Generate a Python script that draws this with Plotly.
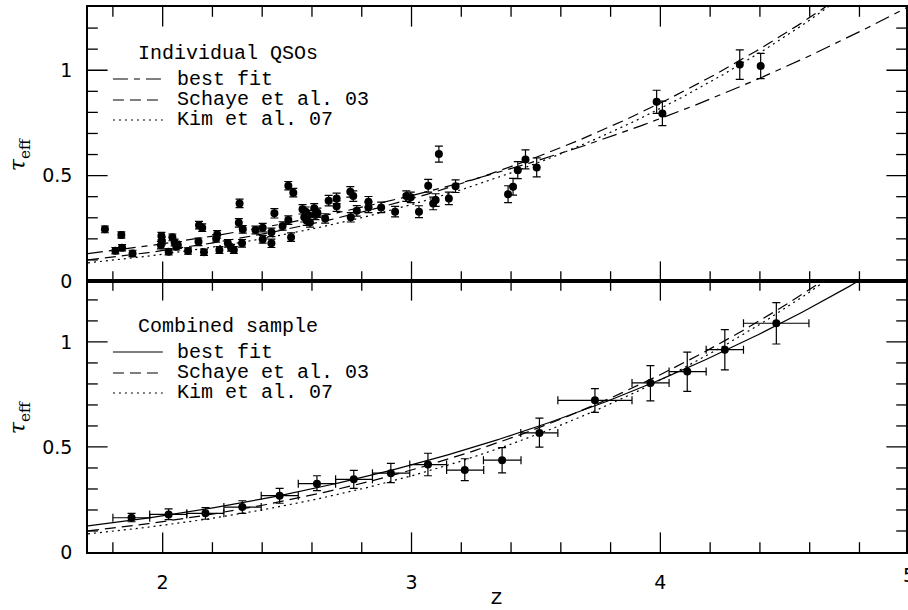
import numpy as np
import plotly.graph_objects as go

# ---------------- data: individual QSOs (top panel) ----------------
z_ind = [1.768, 1.810, 1.834, 1.837, 1.879, 1.995, 1.997, 1.993, 2.024, 2.039,
         2.048, 2.061, 2.055, 2.102, 2.146, 2.159, 2.144, 2.166, 2.219, 2.215,
         2.228, 2.262, 2.275, 2.286, 2.309, 2.306, 2.322, 2.319, 2.373, 2.402,
         2.402, 2.437, 2.437, 2.449, 2.482, 2.505, 2.505, 2.525, 2.516, 2.562,
         2.569, 2.575, 2.579, 2.585, 2.592, 2.609, 2.614, 2.622, 2.653, 2.667,
         2.699, 2.699, 2.754, 2.766, 2.756, 2.780, 2.827, 2.827, 2.878, 2.934,
         2.979, 2.997, 3.030, 3.067, 3.087, 3.097, 3.110, 3.150, 3.177, 3.388,
         3.408, 3.427, 3.458, 3.503, 3.985, 4.008, 4.319, 4.403]
tau_ind = [0.245, 0.144, 0.218, 0.158, 0.131, 0.213, 0.190, 0.170, 0.139, 0.207,
           0.183, 0.171, 0.163, 0.142, 0.265, 0.253, 0.186, 0.136, 0.221, 0.202,
           0.147, 0.179, 0.158, 0.147, 0.368, 0.276, 0.245, 0.179, 0.242, 0.253,
           0.198, 0.231, 0.179, 0.321, 0.261, 0.289, 0.452, 0.419, 0.208, 0.340,
           0.302, 0.329, 0.286, 0.313, 0.278, 0.345, 0.313, 0.324, 0.297, 0.381,
           0.392, 0.355, 0.423, 0.403, 0.302, 0.333, 0.376, 0.349, 0.349, 0.329,
           0.403, 0.397, 0.329, 0.452, 0.368, 0.384, 0.602, 0.392, 0.450, 0.412,
           0.447, 0.526, 0.577, 0.539, 0.850, 0.795, 1.027, 1.020]
err_ind = [0.016, 0.015, 0.015, 0.015, 0.015, 0.018, 0.018, 0.018, 0.015, 0.016,
           0.016, 0.016, 0.016, 0.015, 0.018, 0.018, 0.018, 0.015, 0.018, 0.018,
           0.016, 0.018, 0.016, 0.016, 0.020, 0.020, 0.018, 0.018, 0.018, 0.020,
           0.018, 0.020, 0.020, 0.022, 0.020, 0.020, 0.020, 0.020, 0.020, 0.022,
           0.022, 0.022, 0.022, 0.022, 0.022, 0.022, 0.022, 0.022, 0.022, 0.025,
           0.025, 0.025, 0.025, 0.025, 0.022, 0.025, 0.025, 0.025, 0.025, 0.025,
           0.025, 0.025, 0.028, 0.030, 0.030, 0.030, 0.038, 0.030, 0.030, 0.040,
           0.040, 0.040, 0.045, 0.045, 0.055, 0.058, 0.070, 0.060]

# ---------------- data: combined sample (bottom panel) ----------------
z_comb = [1.875, 2.024, 2.172, 2.320, 2.470, 2.620, 2.768, 2.917, 3.066, 3.214,
          3.364, 3.514, 3.737, 3.960, 4.108, 4.259, 4.466]
tau_comb = [0.163, 0.179, 0.184, 0.214, 0.268, 0.325, 0.346, 0.375, 0.416, 0.390,
            0.437, 0.567, 0.722, 0.805, 0.859, 0.963, 1.089]
zlo_comb = [1.800, 1.948, 2.097, 2.246, 2.396, 2.545, 2.695, 2.843, 2.993, 3.141,
            3.289, 3.439, 3.588, 3.886, 4.035, 4.184, 4.334]
zhi_comb = [1.948, 2.097, 2.246, 2.396, 2.545, 2.695, 2.843, 2.993, 3.141, 3.290,
            3.440, 3.588, 3.886, 4.035, 4.184, 4.334, 4.597]
taulo_comb = [0.144, 0.154, 0.156, 0.184, 0.232, 0.292, 0.303, 0.330, 0.363, 0.340,
              0.377, 0.499, 0.665, 0.719, 0.765, 0.867, 0.990]
tauhi_comb = [0.184, 0.205, 0.211, 0.244, 0.303, 0.363, 0.389, 0.422, 0.470, 0.444,
              0.497, 0.637, 0.778, 0.887, 0.951, 1.059, 1.187]

# ---------------- model curves: tau = A (1+z)^gamma ----------------
FIT_IND_A, FIT_IND_G = 0.00743, 2.884
FIT_COMB_A, FIT_COMB_G = 0.00596, 3.06
SCHAYE_A, SCHAYE_G = 0.39, 3.46      # tau = A ((1+z)/4)^gamma
KIM_A, KIM_G = 0.0023, 3.65

legend_top = ["Individual QSOs", "best fit", "Schaye et al. 03", "Kim et al. 07"]
legend_bot = ["Combined sample", "best fit", "Schaye et al. 03", "Kim et al. 07"]

# tick marks (values on the axes)
X_MAJOR = [2, 3, 4]
X_MINOR = [1.8, 2.2, 2.4, 2.6, 2.8, 3.2, 3.4, 3.6, 3.8, 4.2, 4.4, 4.6, 4.8]
Y_MAJOR = [0.5, 1.0]
Y_MINOR = [0.1, 0.2, 0.3, 0.4, 0.6, 0.7, 0.8, 0.9, 1.1, 1.2]
Y_LABELS = [0, 0.5, 1]
Y_TEXT = ["0", "0.5", "1"]

ZMIN, ZMAX = 1.7, 4.987
YMAX_TOP, YMAX_BOT = 1.3, 1.29
zz = np.linspace(ZMIN, 5.0, 300)
fit_ind = FIT_IND_A * (1 + zz) ** FIT_IND_G
fit_comb = FIT_COMB_A * (1 + zz) ** FIT_COMB_G
schaye = SCHAYE_A * ((1 + zz) / 4.0) ** SCHAYE_G
kim = KIM_A * (1 + zz) ** KIM_G

TXTFONT = "Liberation Mono"
NUMFONT = "DejaVu Sans"
DASH_BEST = "15px,6px,6px,6px"
DASH_SCH = "11px,6px"
DASH_KIM = "2px,4px"
LW = 1.2
TICK_MAJ, TICK_MIN, TICK_W = 14, 7, 1.3
PLOT_W, PLOT_H = 820.0, 545.0

fig = go.Figure()

# top panel curves
fig.add_trace(go.Scatter(x=zz, y=fit_ind, mode="lines", line=dict(color="black", width=LW, dash=DASH_BEST),
                         xaxis="x", yaxis="y", showlegend=False, hoverinfo="skip"))
fig.add_trace(go.Scatter(x=zz, y=schaye, mode="lines", line=dict(color="black", width=LW, dash=DASH_SCH),
                         xaxis="x", yaxis="y", showlegend=False, hoverinfo="skip"))
fig.add_trace(go.Scatter(x=zz, y=kim, mode="lines", line=dict(color="black", width=LW, dash=DASH_KIM),
                         xaxis="x", yaxis="y", showlegend=False, hoverinfo="skip"))
fig.add_trace(go.Scatter(x=z_ind, y=tau_ind, mode="markers",
                         marker=dict(color="black", size=8),
                         error_y=dict(type="data", array=err_ind, color="black", thickness=1.2, width=4),
                         xaxis="x", yaxis="y", showlegend=False))

# bottom panel curves
fig.add_trace(go.Scatter(x=zz, y=fit_comb, mode="lines", line=dict(color="black", width=LW),
                         xaxis="x2", yaxis="y2", showlegend=False, hoverinfo="skip"))
fig.add_trace(go.Scatter(x=zz, y=schaye, mode="lines", line=dict(color="black", width=LW, dash=DASH_SCH),
                         xaxis="x2", yaxis="y2", showlegend=False, hoverinfo="skip"))
fig.add_trace(go.Scatter(x=zz, y=kim, mode="lines", line=dict(color="black", width=LW, dash=DASH_KIM),
                         xaxis="x2", yaxis="y2", showlegend=False, hoverinfo="skip"))
zc = np.array(z_comb); tc = np.array(tau_comb)
fig.add_trace(go.Scatter(x=z_comb, y=tau_comb, mode="markers",
                         marker=dict(color="black", size=8),
                         error_x=dict(type="data", symmetric=False,
                                      array=(np.array(zhi_comb) - zc).tolist(),
                                      arrayminus=(zc - np.array(zlo_comb)).tolist(),
                                      color="black", thickness=1.2, width=4),
                         error_y=dict(type="data", symmetric=False,
                                      array=(np.array(tauhi_comb) - tc).tolist(),
                                      arrayminus=(tc - np.array(taulo_comb)).tolist(),
                                      color="black", thickness=1.2, width=4),
                         xaxis="x2", yaxis="y2", showlegend=False))

# -------- tick marks: line-shaped markers centred on each frame edge, half clipped away --------
def tick_trace(xs, ys, symbol, ln, xa, ya):
    return go.Scatter(x=xs, y=ys, mode="markers", cliponaxis=True, xaxis=xa, yaxis=ya,
                      marker=dict(symbol=symbol, size=2 * ln, color="black",
                                  line=dict(color="black", width=TICK_W)),
                      showlegend=False, hoverinfo="skip")

for xa, ya, ymax in [("x", "y", YMAX_TOP), ("x2", "y2", YMAX_BOT)]:
    for vals, ln in [(X_MAJOR, TICK_MAJ), (X_MINOR, TICK_MIN)]:
        fig.add_trace(tick_trace(vals, [0] * len(vals), "line-ns", ln, xa, ya))
        fig.add_trace(tick_trace(vals, [ymax] * len(vals), "line-ns", ln, xa, ya))
    for vals, ln in [(Y_MAJOR, TICK_MAJ), (Y_MINOR, TICK_MIN)]:
        fig.add_trace(tick_trace([ZMIN] * len(vals), vals, "line-ew", ln, xa, ya))
        fig.add_trace(tick_trace([ZMAX] * len(vals), vals, "line-ew", ln, xa, ya))

SPLIT = 271 / 545
LINE = dict(showline=True, linecolor="black", linewidth=1.6, mirror=True, showgrid=False, zeroline=False,
            ticks="")
NUMF = dict(family=NUMFONT, size=19, color="black")

fig.update_layout(
    width=908, height=610, autosize=False,
    margin=dict(l=88, r=0, t=7, b=58),
    paper_bgcolor="white", plot_bgcolor="white",
    xaxis=dict(domain=[0, 1], anchor="y", range=[ZMIN, ZMAX], showticklabels=False, **LINE),
    yaxis=dict(domain=[SPLIT, 1], anchor="x", range=[0, YMAX_TOP], tickmode="array", tickvals=Y_LABELS,
               ticktext=Y_TEXT, tickfont=NUMF, ticklabelstandoff=10, **LINE),
    xaxis2=dict(domain=[0, 1], anchor="y2", range=[ZMIN, ZMAX], tickmode="array", tickvals=X_MAJOR,
                ticktext=[str(v) for v in X_MAJOR], tickfont=NUMF, ticklabelstandoff=12, **LINE),
    yaxis2=dict(domain=[0, SPLIT], anchor="x2", range=[0, YMAX_BOT], tickmode="array", tickvals=Y_LABELS,
                ticktext=Y_TEXT, tickfont=NUMF, ticklabelstandoff=10, **LINE),
    showlegend=False,
)

# -------- legends (annotations + sample lines) in paper coords --------
def px2x(px):
    return (px - 88) / PLOT_W

def py2y(py):
    return (552 - py) / PLOT_H

annots = []
shapes = []
LFONT = dict(family=TXTFONT, size=20, color="black")
for labels, title_y, rows, best_dash in [
        (legend_top, 53, [79, 100, 120], DASH_BEST),
        (legend_bot, 326, [352, 373, 393], "solid")]:
    annots.append(dict(x=px2x(136), y=py2y(title_y), xref="paper", yref="paper", text=labels[0],
                       showarrow=False, xanchor="left", yanchor="middle", font=LFONT))
    for lab, ry, dsh in zip(labels[1:], rows, [best_dash, DASH_SCH, DASH_KIM]):
        annots.append(dict(x=px2x(175), y=py2y(ry), xref="paper", yref="paper", text=lab,
                           showarrow=False, xanchor="left", yanchor="middle", font=LFONT))
        shapes.append(dict(type="line", xref="paper", yref="paper", x0=px2x(113), x1=px2x(163),
                           y0=py2y(ry), y1=py2y(ry), line=dict(color="black", width=LW, dash=dsh)))

# axis titles
for yc in [155, 418]:
    annots.append(dict(x=px2x(19), y=py2y(yc), xref="paper", yref="paper",
                       text="<i>τ</i><sub>eff</sub>", textangle=-90, showarrow=False,
                       xanchor="center", yanchor="middle", font=dict(family="DejaVu Serif", size=22, color="black")))
annots.append(dict(x=px2x(497), y=py2y(598), xref="paper", yref="paper", text="z", showarrow=False,
                   xanchor="center", yanchor="middle", font=dict(family=TXTFONT, size=22, color="black")))
# clipped "5" tick label at the right edge
annots.append(dict(x=px2x(911), y=py2y(575), xref="paper", yref="paper", text="5", showarrow=False,
                   xanchor="center", yanchor="middle", font=NUMF))

fig.update_layout(annotations=annots, shapes=shapes)

fig.write_html("out.html")
